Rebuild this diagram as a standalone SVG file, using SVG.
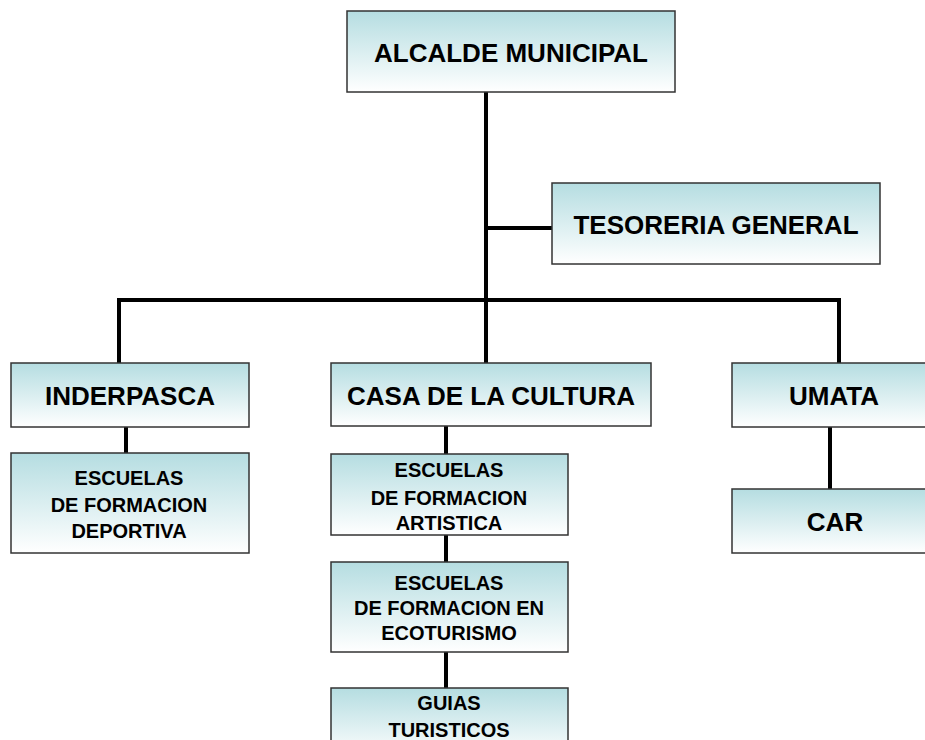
<svg xmlns="http://www.w3.org/2000/svg" width="925" height="740" viewBox="0 0 925 740">
<defs>
<linearGradient id="g" x1="0" y1="0" x2="0" y2="1">
<stop offset="0" stop-color="#b5dde1"/>
<stop offset="1" stop-color="#ffffff"/>
</linearGradient>
<style>
.box{fill:url(#g);stroke:#333;stroke-width:1.5}
.t{font-family:"Liberation Sans",Arial,sans-serif;font-weight:bold;fill:#000;text-anchor:middle}
.big{font-size:26px}
.sm{font-size:20px}
.c{stroke:#000;stroke-width:4;fill:none}
</style>
</defs>
<rect width="925" height="740" fill="#fff"/>
<g id="connectors">
<line class="c" x1="486" y1="92" x2="486" y2="363"/>
<line class="c" x1="486" y1="228" x2="552" y2="228"/>
<polyline class="c" points="119,363 119,300 839,300 839,363"/>
<line class="c" x1="126" y1="427" x2="126" y2="453"/>
<line class="c" x1="446" y1="426" x2="446" y2="454"/>
<line class="c" x1="446" y1="535" x2="446" y2="562"/>
<line class="c" x1="446" y1="652" x2="446" y2="688"/>
<line class="c" x1="830" y1="427" x2="830" y2="489"/>
</g>
<g id="alcalde">
<rect class="box" x="347" y="11" width="328" height="81"/>
<text class="t big" x="511" y="62">ALCALDE MUNICIPAL</text>
</g>
<g id="tesoreria">
<rect class="box" x="552" y="183" width="328" height="81"/>
<text class="t big" x="716" y="234">TESORERIA GENERAL</text>
</g>
<g id="inderpasca">
<rect class="box" x="11" y="363" width="238" height="64"/>
<text class="t big" x="130" y="405">INDERPASCA</text>
</g>
<g id="casa">
<rect class="box" x="331" y="363" width="320" height="63"/>
<text class="t big" x="491" y="405">CASA DE LA CULTURA</text>
</g>
<g id="umata">
<rect class="box" x="732" y="363" width="204" height="64"/>
<text class="t big" x="834" y="405">UMATA</text>
</g>
<g id="deportiva">
<rect class="box" x="11" y="453" width="238" height="100"/>
<text class="t sm" x="129" y="485">ESCUELAS</text>
<text class="t sm" x="129" y="512">DE FORMACION</text>
<text class="t sm" x="129" y="538">DEPORTIVA</text>
</g>
<g id="artistica">
<rect class="box" x="331" y="454" width="237" height="81"/>
<text class="t sm" x="449" y="477">ESCUELAS</text>
<text class="t sm" x="449" y="505">DE FORMACION</text>
<text class="t sm" x="449" y="530">ARTISTICA</text>
</g>
<g id="ecoturismo">
<rect class="box" x="331" y="562" width="237" height="90"/>
<text class="t sm" x="449" y="590">ESCUELAS</text>
<text class="t sm" x="449" y="615">DE FORMACION EN</text>
<text class="t sm" x="449" y="640">ECOTURISMO</text>
</g>
<g id="guias">
<rect class="box" x="331" y="688" width="237" height="70"/>
<text class="t sm" x="449" y="710">GUIAS</text>
<text class="t sm" x="449" y="737">TURISTICOS</text>
</g>
<g id="car">
<rect class="box" x="732" y="489" width="204" height="64"/>
<text class="t big" x="835" y="531">CAR</text>
</g>
</svg>
